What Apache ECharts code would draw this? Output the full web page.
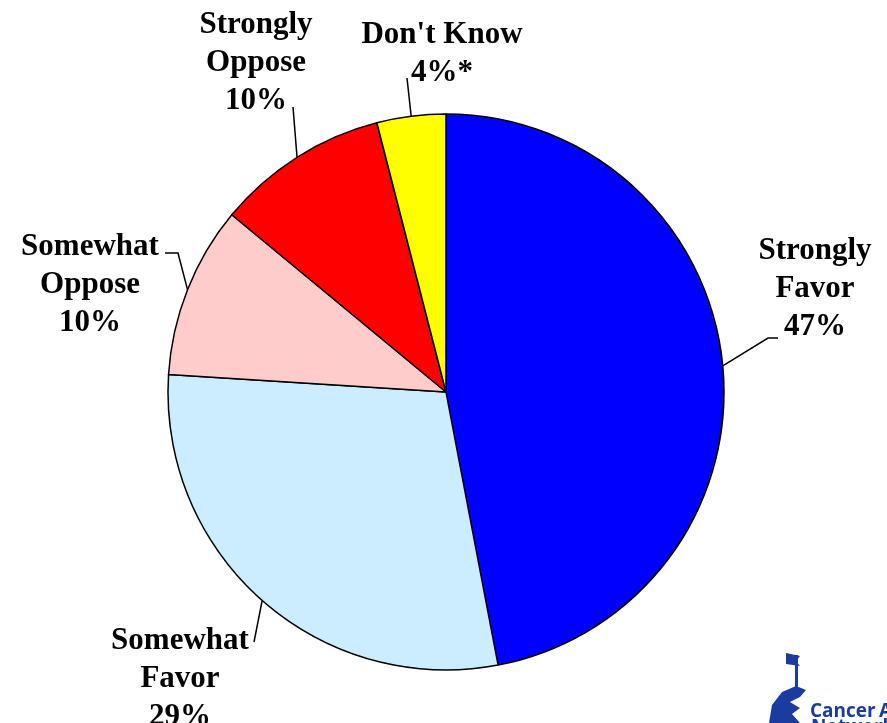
<!DOCTYPE html>
<html>
<head>
<meta charset="utf-8">
<script src="https://cdn.jsdelivr.net/npm/echarts@6/dist/echarts.min.js"></script>
<style>html,body{margin:0;padding:0;background:#fff;}#c{width:887px;height:723px;}</style>
</head>
<body>
<div id="c"></div>
<script>
const categories = ['Strongly\nFavor', 'Somewhat\nFavor', 'Somewhat\nOppose', 'Strongly\nOppose', "Don't Know"];
const values = [47, 29, 10, 10, 4];
const notes = ['', '', '', '', '*'];
const colors = ['#0000FF', '#CCECFF', '#FFCCCC', '#FF0000', '#FFFF00'];

// label placement (centre of label block) and leader-line offsets relative to it
const labelPos = [[815, 289], [180, 679], [90, 285], [256, 63], [442, 54]];
const leader = [
  [[-47, 49], [-37, 49]],
  [[74, -37], [74, -37]],
  [[88, -32], [75, -32]],
  [[37, 44], [37, 44]],
  [[-35, 24], [-35, 24]]
];

const chart = echarts.init(document.getElementById('c'));
chart.setOption({
  backgroundColor: '#fff',
  animation: false,
  series: [{
    type: 'pie',
    center: [446, 392],
    radius: 278,
    startAngle: 90,
    clockwise: true,
    data: categories.map((n, i) => ({
      name: n, value: values[i],
      itemStyle: { color: colors[i] }
    })),
    itemStyle: { borderColor: '#000', borderWidth: 1.5 },
    emphasis: { disabled: true },
    label: {
      show: true,
      position: 'outside',
      formatter: p => p.name + '\n' + p.value + '%' + notes[p.dataIndex],
      fontFamily: '"Liberation Serif", "Times New Roman", serif',
      fontWeight: 'bold',
      fontSize: 31,
      lineHeight: 38,
      color: '#000',
      align: 'center'
    },
    labelLine: {
      show: true, length: 20, length2: 10,
      lineStyle: { color: '#000', width: 1.5 }
    },
    labelLayout: function (params) {
      const i = params.dataIndex;
      const c = labelPos[i];
      const start = params.labelLinePoints ? params.labelLinePoints[0] : [c[0], c[1]];
      const l = leader[i];
      return {
        x: c[0], y: c[1],
        align: 'center', verticalAlign: 'middle',
        labelLinePoints: [start, [c[0] + l[0][0], c[1] + l[0][1]], [c[0] + l[1][0], c[1] + l[1][1]]]
      };
    }
  }],
  graphic: [
    { type: 'polygon', shape: { points: [[769, 723], [772, 705], [782, 692], [796, 686], [806, 690], [800, 697], [790, 702], [800, 708], [792, 714], [800, 723]] }, style: { fill: '#1b3c9e' } },
    { type: 'rect', shape: { x: 795, y: 655, width: 3, height: 34 }, style: { fill: '#1b3c9e' } },
    { type: 'polygon', shape: { points: [[786, 653], [800, 656], [796, 661], [800, 666], [786, 664]] }, style: { fill: '#1b3c9e' } },
    { type: 'text', x: 810, y: 702, style: { text: 'Cancer', fill: '#1b3c9e', overflow: 'none', font: 'bold 19px "Open Sans", "DejaVu Sans", sans-serif' } },
    { type: 'text', x: 879, y: 702, style: { text: 'Action', fill: '#1b3c9e', overflow: 'none', font: 'bold 19px "Open Sans", "DejaVu Sans", sans-serif' } },
    { type: 'text', x: 811, y: 718, style: { text: 'Network', fill: '#1b3c9e', overflow: 'none', font: 'bold 19px "Open Sans", "DejaVu Sans", sans-serif' } }
  ]
});
</script>
</body>
</html>
